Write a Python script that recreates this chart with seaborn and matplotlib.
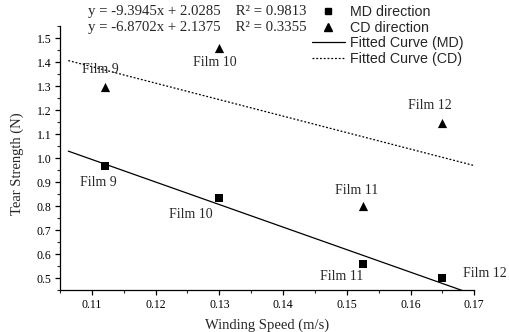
import matplotlib
matplotlib.use("Agg")
import matplotlib.pyplot as plt
import seaborn as sns
import numpy as np
import pandas as pd
from matplotlib.ticker import MultipleLocator
from matplotlib.lines import Line2D

# ---- data ----
films = ["Film 9", "Film 10", "Film 11", "Film 12"]
speed = [0.112, 0.130, 0.1525, 0.165]
md_strength = [0.97, 0.835, 0.558, 0.50]
cd_strength = [1.298, 1.461, 0.803, 1.148]

md_slope, md_icpt, md_r2 = -9.3945, 2.0285, 0.9813
cd_slope, cd_icpt, cd_r2 = -6.8702, 2.1375, 0.3355
fit_range = [0.1063, 0.17]

# label positions (data coords)
md_label_xy = [(0.1110, 0.900), (0.1256, 0.764), (0.1492, 0.507), (0.1717, 0.518)]
cd_label_xy = [(0.1113, 1.372), (0.1293, 1.401), (0.1516, 0.865), (0.1631, 1.221)]

sns.set_style("ticks")
plt.rcParams['font.family'] = ['Liberation Serif', 'DejaVu Serif']

fig = plt.figure(figsize=(5.09, 3.32), dpi=100)
ax = fig.add_axes([60/509, 1 - 290.3/332, (474.3-60)/509, 264/332])

df = pd.DataFrame({"speed": speed, "MD": md_strength, "CD": cd_strength})
sns.scatterplot(data=df, x="speed", y="MD", marker="s", color="black", s=40,
                edgecolor="black", linewidth=0, ax=ax, zorder=3)
sns.scatterplot(data=df, x="speed", y="CD", marker="^", color="black", s=44,
                edgecolor="black", linewidth=0, ax=ax, zorder=3)

fx = np.array(fit_range)
fit_df = pd.DataFrame({"x": fx, "md": md_slope * fx + md_icpt, "cd": cd_slope * fx + cd_icpt})
sns.lineplot(data=fit_df, x="x", y="md", color="black", linewidth=0.9, ax=ax)
sns.lineplot(data=fit_df, x="x", y="cd", color="black", linewidth=0.9,
             linestyle=(0, (1.5, 1.5)), ax=ax)

for name, (lx, ly) in zip(films, md_label_xy):
    ax.text(lx, ly, name, ha="center", va="center", fontsize=10, clip_on=False)
for name, (lx, ly) in zip(films, cd_label_xy):
    ax.text(lx, ly, name, ha="center", va="center", fontsize=10, clip_on=False)

ax.set_xlim(0.105, 0.17)
ax.set_ylim(0.45, 1.55)
ax.xaxis.set_minor_locator(MultipleLocator(0.005))
ax.yaxis.set_minor_locator(MultipleLocator(0.05))
xt = np.arange(0.11, 0.1701, 0.01)
yt = np.arange(0.5, 1.501, 0.1)
ax.set_xticks(xt)
ax.set_xticklabels([f"{v:.2f}" for v in xt])
ax.set_yticks(yt)
ax.set_yticklabels([f"{v:.1f}" for v in yt])
ax.tick_params(which="major", direction="out", length=3.5, width=0.9, labelsize=8.5,
               colors="black", pad=2.5)
ax.tick_params(which="minor", direction="out", length=2, width=0.8)
for sp in ["top", "right"]:
    ax.spines[sp].set_visible(False)
for sp in ["left", "bottom"]:
    ax.spines[sp].set_linewidth(0.9)
    ax.spines[sp].set_color("black")

ax.set_xlabel("Winding Speed (m/s)", fontsize=10.5, labelpad=6)
ax.set_ylabel("Tear Strength (N)", fontsize=10.5, labelpad=9)
ax.yaxis.label.set_y(0.478)

fig.text(88/509, 1 - 12/332, f"y = {md_slope:.4f}x + {md_icpt:.4f}    R² = {md_r2:.4f}",
         fontsize=10.6, va="center", ha="left")
fig.text(88/509, 1 - 27/332, f"y = {cd_slope:.4f}x + {cd_icpt:.4f}    R² = {cd_r2:.4f}",
         fontsize=10.6, va="center", ha="left")

handles = [
    Line2D([], [], marker="s", color="black", linestyle="none", markersize=5),
    Line2D([], [], marker="^", color="black", linestyle="none", markersize=6),
    Line2D([], [], color="black", linewidth=0.9),
    Line2D([], [], color="black", linewidth=0.9, linestyle=(0, (1.5, 1.5))),
]
labels = ["MD direction", "CD direction", "Fitted Curve (MD)", "Fitted Curve (CD)"]
fig.legend(handles, labels, loc="upper left", bbox_to_anchor=(312/509, 1 - 5/332),
           frameon=False, prop={"family": "Liberation Sans", "size": 10.3},
           handlelength=2.3, handletextpad=0.35, labelspacing=0.12, borderpad=0,
           borderaxespad=0)

fig.savefig("out.png", dpi=100)
